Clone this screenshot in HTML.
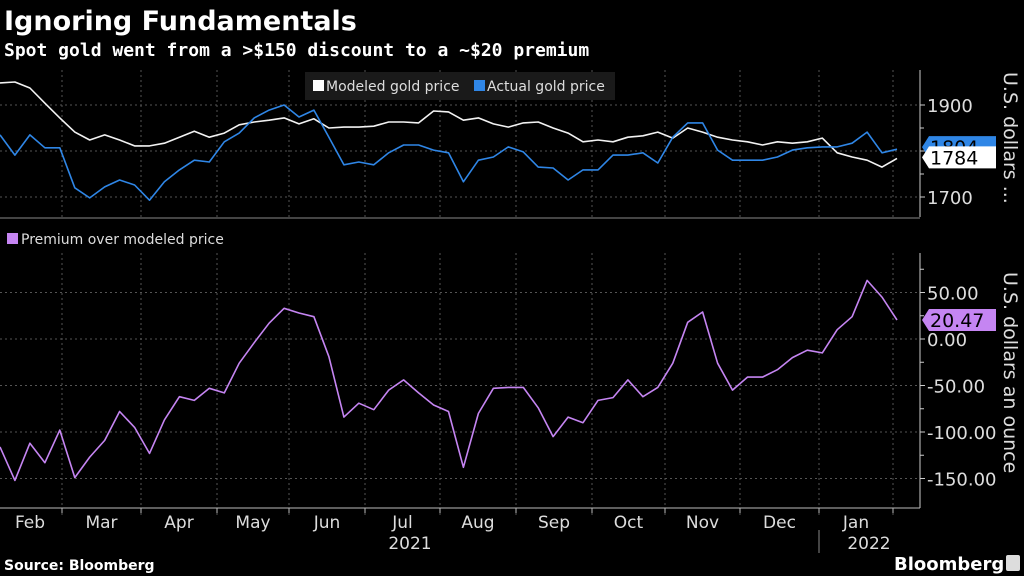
<!DOCTYPE html>
<html><head><meta charset="utf-8">
<style>
html,body{margin:0;padding:0;background:#000;}
body{width:1024px;height:576px;overflow:hidden;font-family:"Liberation Sans","DejaVu Sans",sans-serif;}
svg{display:block}
</style></head>
<body>
<svg id="chart" width="1024" height="576" viewBox="0 0 1024 576">
<rect x="0" y="0" width="1024" height="576" fill="#000"/>
<text x="4" y="30" fill="#fff" font-size="27" font-weight="bold" font-family="DejaVu Sans, sans-serif">Ignoring Fundamentals</text>
<text x="4" y="56" fill="#fff" font-size="18" font-weight="bold" font-family="DejaVu Sans Mono, Liberation Mono, monospace">Spot gold went from a &gt;$150 discount to a ~$20 premium</text>
<g id="grid"></g>
<g id="axes"></g>
<g id="series"></g>
<g>
<rect x="305" y="72" width="310" height="28" fill="#1a1a1a"/>
<rect x="313" y="80" width="11" height="11" fill="#fff"/>
<text x="326" y="91" fill="#ddd" font-size="14" font-family="DejaVu Sans, sans-serif">Modeled gold price</text>
<rect x="474" y="80" width="11" height="11" fill="#2f86e6"/>
<text x="487" y="91" fill="#ddd" font-size="14" font-family="DejaVu Sans, sans-serif">Actual gold price</text>
</g>
<g>
<rect x="7" y="233" width="11" height="11" fill="#c585f2"/>
<text x="21" y="244" fill="#ddd" font-size="14" font-family="DejaVu Sans, sans-serif">Premium over modeled price</text>
</g>
<text transform="translate(1004,72) rotate(90)" fill="#ddd" font-size="19" font-family="DejaVu Sans, sans-serif">U.S. dollars ...</text>
<text transform="translate(1004,272) rotate(90)" fill="#ddd" font-size="19" font-family="DejaVu Sans, sans-serif">U.S. dollars an ounce</text>
<text x="4" y="570" fill="#fff" font-size="14" font-weight="bold" font-family="DejaVu Sans, sans-serif">Source: Bloomberg</text>
<text x="894" y="570" fill="#fff" font-size="18" font-weight="bold" font-family="DejaVu Sans, sans-serif">Bloomberg</text>
<rect x="1006" y="555" width="14" height="16" rx="2" fill="#ddd"/>
</svg>
<script>
const months = ["Feb","Mar","Apr","May","Jun","Jul","Aug","Sep","Oct","Nov","Dec","Jan"];
const modeled = [1948,1950,1937,1904,1872,1841,1824,1835,1824,1811,1811,1817,1830,1843,1830,1839,1857,1863,1867,1872,1859,1870,1850,1852,1852,1854,1863,1863,1861,1887,1885,1867,1872,1859,1852,1861,1863,1850,1839,1820,1824,1820,1830,1833,1841,1828,1850,1841,1830,1824,1820,1813,1820,1817,1820,1828,1796,1787,1780,1765,1784];
const actual = [1835,1791,1835,1807,1807,1720,1698,1722,1737,1726,1693,1733,1759,1780,1776,1820,1839,1872,1889,1900,1874,1889,1830,1770,1776,1770,1796,1813,1813,1802,1796,1733,1780,1787,1809,1798,1765,1763,1737,1759,1759,1791,1791,1796,1774,1830,1861,1861,1802,1780,1780,1780,1787,1802,1807,1809,1809,1817,1841,1796,1804];
const premium = [-116,-152,-112,-133,-98,-149,-127,-109,-78,-95,-123,-87,-62,-66,-53,-58,-26,-4,17,33,28,24,-19,-84,-69,-76,-55,-44,-58,-71,-78,-138,-80,-53,-52,-52,-74,-105,-84,-90,-66,-63,-44,-62,-52,-26,18,29,-26,-55,-41,-41,-33,-20,-12,-15,10,24,63,45,20.47];
const topTicks = [1700,1800,1900];
const topLabels = ["1700","1900"];
const botTicks = [-150,-100,-50,0,50];
const botLabels = ["-150.00","-100.00","-50.00","0.00","50.00"];
const lastModeled = 1784, lastActual = 1804, lastPremium = "20.47";

const NS="http://www.w3.org/2000/svg";
function mk(tag,attrs,parent){const e=document.createElementNS(NS,tag);for(const k in attrs)e.setAttribute(k,attrs[k]);parent.appendChild(e);return e;}
const grid=document.getElementById('grid'),axes=document.getElementById('axes'),ser=document.getElementById('series');
const X0=0, XEND=897, N=premium.length;
const xIdx=i=>X0+(XEND-X0)*i/(N-1);
const monthPx=[0,62,141,217,289,365,440,516,592,665,740,819,893];
const xMonth=m=>monthPx[m];
const yTop=v=>105+(1900-v)*0.46;
const yBot=v=>339-v*0.93;
const PR=920;
for(let m=1;m<monthPx.length;m++){
 const l=mk('line',{x1:xMonth(m),x2:xMonth(m),y1:70,y2:217,stroke:'#555','stroke-dasharray':'2,3'},grid);
 
 
 const l2=mk('line',{x1:xMonth(m),x2:xMonth(m),y1:253,y2:516,stroke:'#555','stroke-dasharray':'2,3'},grid);
 
 
}
topTicks.forEach(v=>{
 const l=mk('line',{x1:0,x2:PR,y1:yTop(v),y2:yTop(v),stroke:'#555','stroke-dasharray':'2,3'},grid);
 
 
 mk('line',{x1:PR,x2:PR+5,y1:yTop(v),y2:yTop(v),stroke:'#ccc'},axes);
});
[1750,1850].forEach(v=>mk('line',{x1:PR,x2:PR+4,y1:yTop(v),y2:yTop(v),stroke:'#ccc'},axes));
topLabels.forEach(s=>{
 const t=mk('text',{x:927,y:yTop(+s)+7,fill:'#ddd','font-size':18,'font-family':'DejaVu Sans, sans-serif'},axes);
 t.textContent=s;
 
 
});
botTicks.forEach((v,i)=>{
 const l=mk('line',{x1:0,x2:PR,y1:yBot(v),y2:yBot(v),stroke:'#555','stroke-dasharray':'2,3'},grid);
 
 
 mk('line',{x1:PR,x2:PR+5,y1:yBot(v),y2:yBot(v),stroke:'#ccc'},axes);
 const t=mk('text',{x:927,y:yBot(v)+7,fill:'#ddd','font-size':18,'font-family':'DejaVu Sans, sans-serif'},axes);
 t.textContent=botLabels[i];
 
 
});
[-125,-75,-25,25,75].forEach(v=>mk('line',{x1:PR,x2:PR+4,y1:yBot(v),y2:yBot(v),stroke:'#ccc'},axes));
mk('line',{x1:PR,x2:PR,y1:70,y2:217,stroke:'#ccc'},axes);
mk('line',{x1:PR,x2:PR,y1:253,y2:508,stroke:'#ccc'},axes);
mk('line',{x1:0,x2:PR,y1:218,y2:218,stroke:'#444','stroke-width':2},axes);
mk('line',{x1:0,x2:PR,y1:508,y2:508,stroke:'#bbb'},axes);
for(let m=1;m<monthPx.length;m++) mk('line',{x1:xMonth(m),x2:xMonth(m),y1:508,y2:513,stroke:'#bbb'},axes);
months.forEach((s,i)=>{
 const cx=i===0?30:(xMonth(i)+xMonth(i+1))/2;
 const t=mk('text',{x:cx,y:528,fill:'#ddd','font-size':17,'text-anchor':'middle','font-family':'DejaVu Sans, sans-serif'},axes);
 t.textContent=s;
 
 
});
[['2021',410],['2022',869]].forEach(([s,x])=>{
 const t=mk('text',{x:x,y:549,fill:'#ddd','font-size':17,'text-anchor':'middle','font-family':'DejaVu Sans, sans-serif'},axes);
 t.textContent=s;
 
 
});
mk('line',{x1:819,x2:819,y1:530,y2:553,stroke:'#888'},axes);
function line(arr,yf,color,name){
 const d=arr.map((v,i)=>(i?'L':'M')+xIdx(i).toFixed(1)+','+yf(v).toFixed(1)).join('');
 const p=mk('path',{d:d,fill:'none',stroke:color,'stroke-width':1.6,'stroke-linejoin':'round'},ser);
 
 
}
line(modeled,yTop,'#f2f2f2','modeled-price-line');
line(actual,yTop,'#2f86e6','actual-price-line');
line(premium,yBot,'#c585f2','premium-line');
function badge(y,txt,bg,fg,name){
 const g=mk('g',{},ser);
 
 
 mk('path',{d:`M922,${y} L929,${y-11} L996,${y-11} L996,${y+11} L929,${y+11} Z`,fill:bg},g);
 const t=mk('text',{x:930,y:y+7,fill:fg,'font-size':19,'font-family':'DejaVu Sans, sans-serif'},g);
 t.textContent=txt;
}
badge(yTop(lastActual)-2,String(lastActual),'#2f86e6','#000','actual-last-value');
badge(yTop(lastModeled)-1,String(lastModeled),'#fff','#000','modeled-last-value');
badge(yBot(+lastPremium),lastPremium,'#c585f2','#000','premium-last-value');
</script>
</body></html>
